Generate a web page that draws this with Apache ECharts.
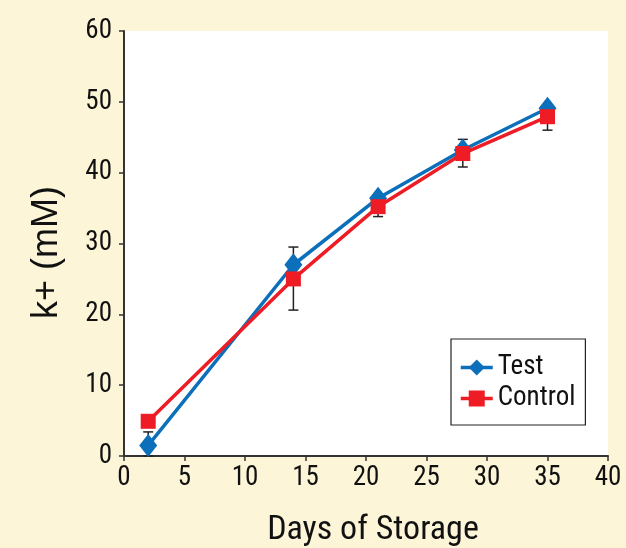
<!DOCTYPE html>
<html>
<head>
<meta charset="utf-8">
<script src="https://cdn.jsdelivr.net/npm/echarts@6/dist/echarts.min.js"></script>
<style>
html,body{margin:0;padding:0;background:#fdf5d8;}
#c{width:626px;height:548px;}
</style>
</head>
<body>
<div id="c"></div>
<script>
const days = [2, 14, 21, 28, 35];
const testValues = [1.5, 27.0, 36.4, 43.2, 49.1];
const controlValues = [4.9, 25.0, 35.2, 42.7, 47.9];
const errorLow = [0.0, 20.6, 33.8, 40.8, 46.0];
const errorHigh = [3.4, 29.5, 36.5, 44.7, 49.0];
const xTicks = [0, 5, 10, 15, 20, 25, 30, 35, 40];
const yTicks = [0, 10, 20, 30, 40, 50, 60];

const FONT = "'Roboto Condensed', 'Liberation Sans', sans-serif";
const FONT_WIDE = "'Liberation Sans', Arial, sans-serif";
const chart = echarts.init(document.getElementById('c'), null, {renderer: 'canvas'});

const errData = days.map((d, i) => [d, errorLow[i], errorHigh[i]]);

chart.setOption({
  backgroundColor: '#fdf5d8',
  animation: false,
  textStyle: {fontFamily: FONT},
  grid: {left: 124, right: 18, top: 31, bottom: 92, show: true, backgroundColor: '#ffffff', borderWidth: 0,
         containLabel: false, outerBoundsMode: 'none'},
  xAxis: {
    type: 'value', min: xTicks[0], max: xTicks[xTicks.length - 1], interval: 5,
    name: 'Days of Storage', nameLocation: 'middle', nameGap: 57,
    nameTextStyle: {fontSize: 34, lineHeight: 34, color: '#111', fontFamily: FONT, padding: [0, 0, 0, 14]},
    axisLine: {show: true, lineStyle: {color: '#333', width: 2}},
    axisTick: {show: true, length: 5, lineStyle: {color: '#333', width: 1.5}},
    axisLabel: {fontSize: 27, color: '#111', margin: 9, fontFamily: FONT},
    splitLine: {show: false}
  },
  yAxis: {
    type: 'value', min: yTicks[0], max: yTicks[yTicks.length - 1], interval: 10,
    name: 'k+ (mM)', nameLocation: 'middle', nameGap: 59, nameRotate: 90,
    nameTextStyle: {fontSize: 36, color: '#111', fontFamily: FONT_WIDE, padding: [0, 18, 0, 0]},
    axisLine: {show: true, lineStyle: {color: '#333', width: 2}},
    axisTick: {show: true, length: 5, lineStyle: {color: '#333', width: 1.5}},
    axisLabel: {fontSize: 27, color: '#111', margin: 12, fontFamily: FONT},
    splitLine: {show: false}
  },
  legend: {
    orient: 'vertical', left: 451, top: 339,
    data: ['Test', 'Control'],
    itemWidth: 32, itemHeight: 20, itemGap: 4,
    padding: [15, 10, 13, 8],
    borderColor: '#222', borderWidth: 1.2, backgroundColor: '#ffffff',
    lineStyle: {width: 3.5},
    textStyle: {fontSize: 27, lineHeight: 26, color: '#111', fontFamily: FONT}
  },
  series: [
    {
      type: 'custom', name: 'err', z: 1,
      data: errData,
      renderItem: function (params, api) {
        const x = api.value(0);
        const lo = api.coord([x, api.value(1)]);
        const hi = api.coord([x, api.value(2)]);
        const w = 5;
        const st = {stroke: '#222', lineWidth: 1.5};
        return {type: 'group', children: [
          {type: 'line', shape: {x1: lo[0], y1: lo[1], x2: hi[0], y2: hi[1]}, style: st},
          {type: 'line', shape: {x1: lo[0] - w, y1: lo[1], x2: lo[0] + w, y2: lo[1]}, style: st},
          {type: 'line', shape: {x1: hi[0] - w, y1: hi[1], x2: hi[0] + w, y2: hi[1]}, style: st}
        ]};
      }
    },
    {
      type: 'line', name: 'Test', z: 2,
      data: days.map((d, i) => [d, testValues[i]]),
      symbol: 'diamond', symbolSize: [18, 23],
      lineStyle: {color: '#0b6fba', width: 3.5},
      itemStyle: {color: '#0b6fba'}
    },
    {
      type: 'line', name: 'Control', z: 3,
      data: days.map((d, i) => [d, controlValues[i]]),
      symbol: 'rect', symbolSize: 15,
      lineStyle: {color: '#ee1c25', width: 3.5},
      itemStyle: {color: '#ee1c25'}
    }
  ]
});
</script>
</body>
</html>
